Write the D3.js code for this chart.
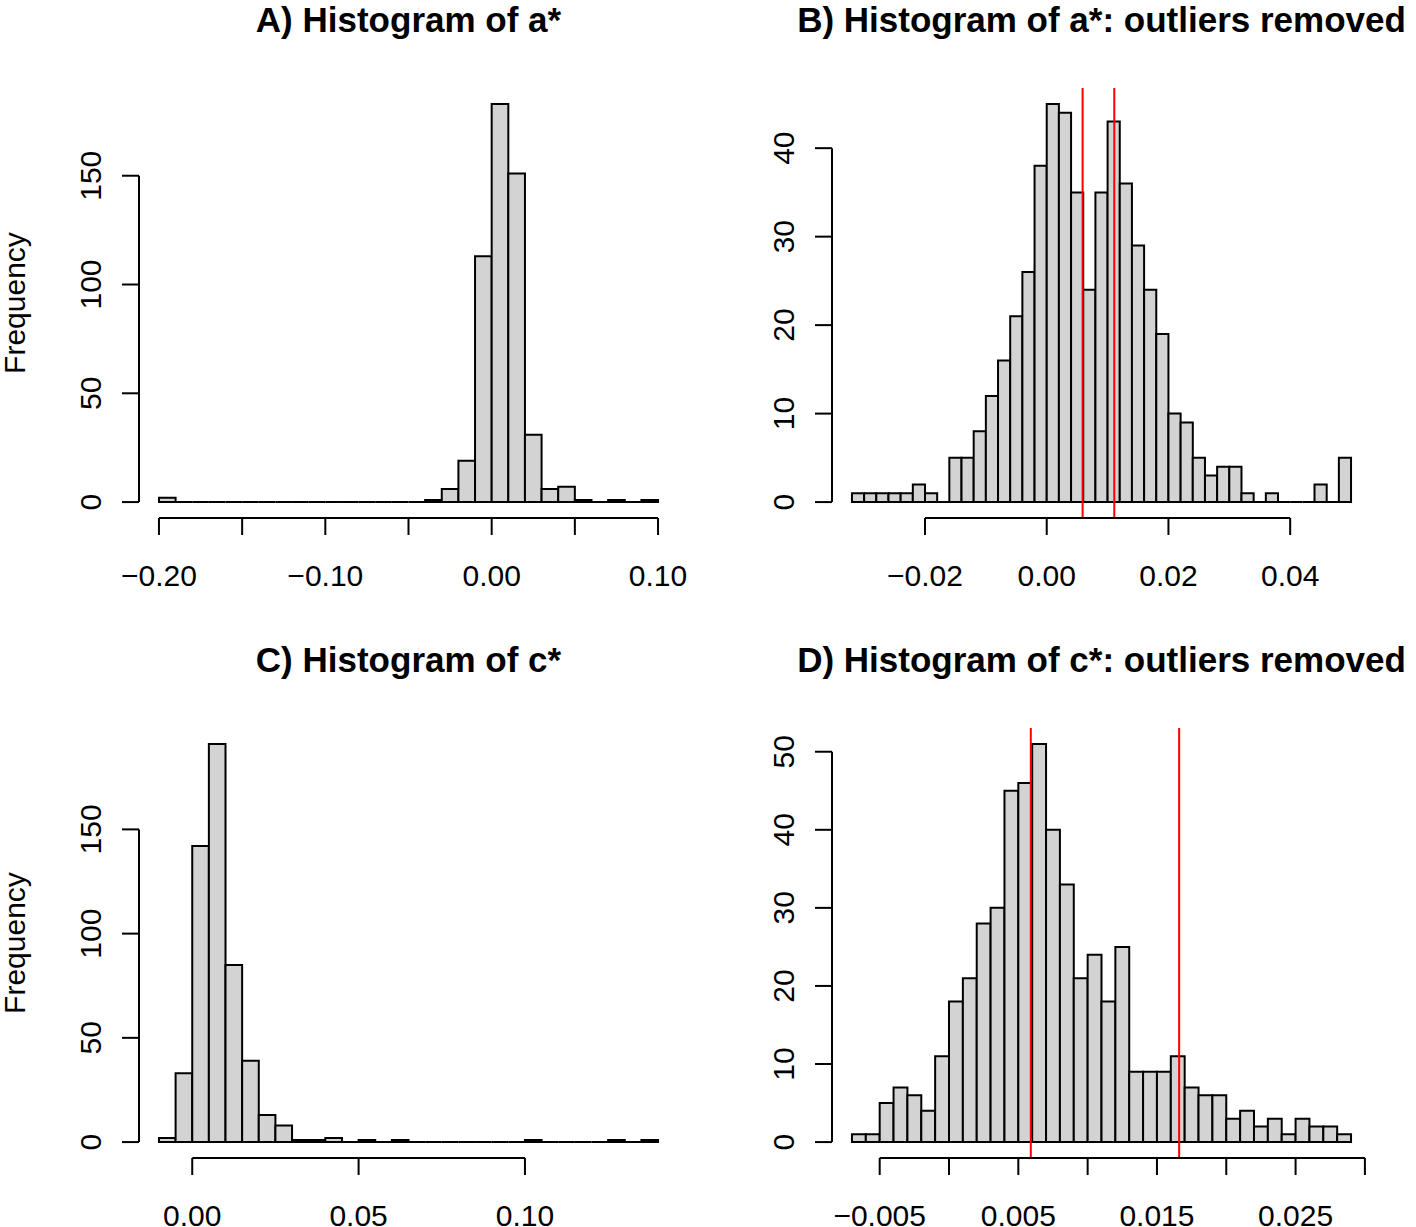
<!DOCTYPE html>
<html>
<head>
<meta charset="utf-8">
<script src="https://cdn.jsdelivr.net/npm/d3@7"></script>
<style>
  body { margin: 0; background: #fff; }
  text { font-family: "Liberation Sans", Arial, sans-serif; fill: #000; }
</style>
</head>
<body>
<div id="chart"></div>
<script>
// Histogram counts (one value per bin)
var countsA = [2, 0, 0, 0, 0, 0, 0, 0, 0, 0, 0, 0, 0, 0, 0, 0, 1, 6, 19, 113, 183, 151, 31, 6, 7, 1, 0, 1, 0, 1];
var countsB = [1, 1, 1, 1, 1, 2, 1, 0, 5, 5, 8, 12, 16, 21, 26, 38, 45, 44, 35, 24, 35, 43, 36, 29, 24, 19, 10, 9, 5, 3, 4, 4, 1, 0, 1, 0, 0, 0, 2, 0, 5];
var countsC = [2, 33, 142, 191, 85, 39, 13, 8, 1, 1, 2, 0, 1, 0, 1, 0, 0, 0, 0, 0, 0, 0, 1, 0, 0, 0, 0, 1, 0, 1];
var countsD = [1, 1, 5, 7, 6, 4, 11, 18, 21, 28, 30, 45, 46, 51, 40, 33, 21, 24, 18, 25, 9, 9, 9, 11, 7, 6, 6, 3, 4, 2, 3, 1, 3, 2, 2, 1];

// first break and bin width of each histogram
var breakStartA = -0.20, binWidthA = 0.01;
var breakStartB = -0.032, binWidthB = 0.002;
var breakStartC = -0.01, binWidthC = 0.005;
var breakStartD = -0.007, binWidthD = 0.001;

// red reference lines
var redLinesB = [0.0059, 0.0111];
var redLinesD = [0.0059, 0.0166];

// axis ticks and which of them carry a label
var xTicksA = [-0.20, -0.15, -0.10, -0.05, 0.00, 0.05, 0.10];
var xLabelsA = ["\u22120.20", "", "\u22120.10", "", "0.00", "", "0.10"];
var xTicksB = [-0.02, 0.00, 0.02, 0.04];
var xLabelsB = ["\u22120.02", "0.00", "0.02", "0.04"];
var xTicksC = [0.00, 0.05, 0.10];
var xLabelsC = ["0.00", "0.05", "0.10"];
var xTicksD = [-0.005, 0.000, 0.005, 0.010, 0.015, 0.020, 0.025, 0.030];
var xLabelsD = ["\u22120.005", "", "0.005", "", "0.015", "", "0.025", ""];
var yTicksA = [0, 50, 100, 150];
var yTicksB = [0, 10, 20, 30, 40];
var yTicksC = [0, 50, 100, 150];
var yTicksD = [0, 10, 20, 30, 40, 50];

var titles = ["A) Histogram of a*", "B) Histogram of a*: outliers removed",
              "C) Histogram of c*", "D) Histogram of c*: outliers removed"];

var svgWidth = 1416;
var svgHeight = 1227;
var plotW = 539, plotH = 430;
var tickLen = 17;

var svg = d3.select("#chart")
  .append("svg")
  .attr("width", svgWidth)
  .attr("height", svgHeight);

var panels = [
  {left: 139, top: 88, counts: countsA, start: breakStartA, bw: binWidthA, xt: xTicksA, xl: xLabelsA, yt: yTicksA, ylab: "Frequency", title: titles[0], red: []},
  {left: 832, top: 88, counts: countsB, start: breakStartB, bw: binWidthB, xt: xTicksB, xl: xLabelsB, yt: yTicksB, ylab: "", title: titles[1], red: redLinesB},
  {left: 139, top: 728, counts: countsC, start: breakStartC, bw: binWidthC, xt: xTicksC, xl: xLabelsC, yt: yTicksC, ylab: "Frequency", title: titles[2], red: []},
  {left: 832, top: 728, counts: countsD, start: breakStartD, bw: binWidthD, xt: xTicksD, xl: xLabelsD, yt: yTicksD, ylab: "", title: titles[3], red: redLinesD}
];

panels.forEach(function(p) {
  var g = svg.append("g");
  var x0 = p.start;
  var x1 = p.start + p.bw * p.counts.length;
  var pad = 0.04 * (x1 - x0);
  var maxC = d3.max(p.counts);

  // R style: 4% extension on both axes
  var x = d3.scaleLinear()
    .domain([x0 - pad, x1 + pad])
    .range([p.left, p.left + plotW]);
  var y = d3.scaleLinear()
    .domain([-0.04 * maxC, 1.04 * maxC])
    .range([p.top + plotH, p.top]);

  // bars as paths so zero counts still show as a line
  g.selectAll("path.bar")
    .data(p.counts)
    .enter()
    .append("path")
    .attr("class", "bar")
    .attr("d", function(d, i) {
      var a = x(p.start + i * p.bw), b = x(p.start + (i + 1) * p.bw);
      return "M" + a + "," + y(0) + "V" + y(d) + "H" + b + "V" + y(0) + "Z";
    })
    .attr("fill", "#d3d3d3")
    .attr("stroke", "#000")
    .attr("stroke-width", 2);

  // red vertical lines across the whole plot region
  g.selectAll("line.red")
    .data(p.red)
    .enter()
    .append("line")
    .attr("x1", d => x(d))
    .attr("x2", d => x(d))
    .attr("y1", p.top)
    .attr("y2", p.top + plotH)
    .attr("stroke", "#ff0000")
    .attr("stroke-width", 2);

  // x axis
  var bottom = p.top + plotH;
  g.append("line")
    .attr("x1", x(p.xt[0])).attr("x2", x(p.xt[p.xt.length - 1]))
    .attr("y1", bottom).attr("y2", bottom)
    .attr("stroke", "#000").attr("stroke-width", 2);
  g.selectAll("line.xt")
    .data(p.xt)
    .enter()
    .append("line")
    .attr("x1", d => x(d)).attr("x2", d => x(d))
    .attr("y1", bottom).attr("y2", bottom + tickLen)
    .attr("stroke", "#000").attr("stroke-width", 2);
  g.selectAll("text.xl")
    .data(p.xt)
    .enter()
    .append("text")
    .attr("x", d => x(d))
    .attr("y", bottom + 68)
    .attr("text-anchor", "middle")
    .style("font-size", "30px")
    .text((d, i) => p.xl[i]);

  // y axis
  g.append("line")
    .attr("x1", p.left).attr("x2", p.left)
    .attr("y1", y(p.yt[0])).attr("y2", y(p.yt[p.yt.length - 1]))
    .attr("stroke", "#000").attr("stroke-width", 2);
  g.selectAll("line.yt")
    .data(p.yt)
    .enter()
    .append("line")
    .attr("x1", p.left - tickLen).attr("x2", p.left)
    .attr("y1", d => y(d)).attr("y2", d => y(d))
    .attr("stroke", "#000").attr("stroke-width", 2);
  g.selectAll("text.yl")
    .data(p.yt)
    .enter()
    .append("text")
    .attr("transform", d => `translate(${p.left - 38}, ${y(d)}) rotate(-90)`)
    .attr("text-anchor", "middle")
    .style("font-size", "30px")
    .text(d => d);

  if (p.ylab) {
    g.append("text")
      .attr("transform", `translate(25, ${p.top + plotH / 2}) rotate(-90)`)
      .attr("text-anchor", "middle")
      .style("font-size", "30px")
      .text(p.ylab);
  }

  // title
  g.append("text")
    .attr("x", p.left + plotW / 2)
    .attr("y", p.top - 56)
    .attr("text-anchor", "middle")
    .style("font-size", "35px")
    .style("font-weight", "bold")
    .text(p.title);
});
</script>
</body>
</html>
